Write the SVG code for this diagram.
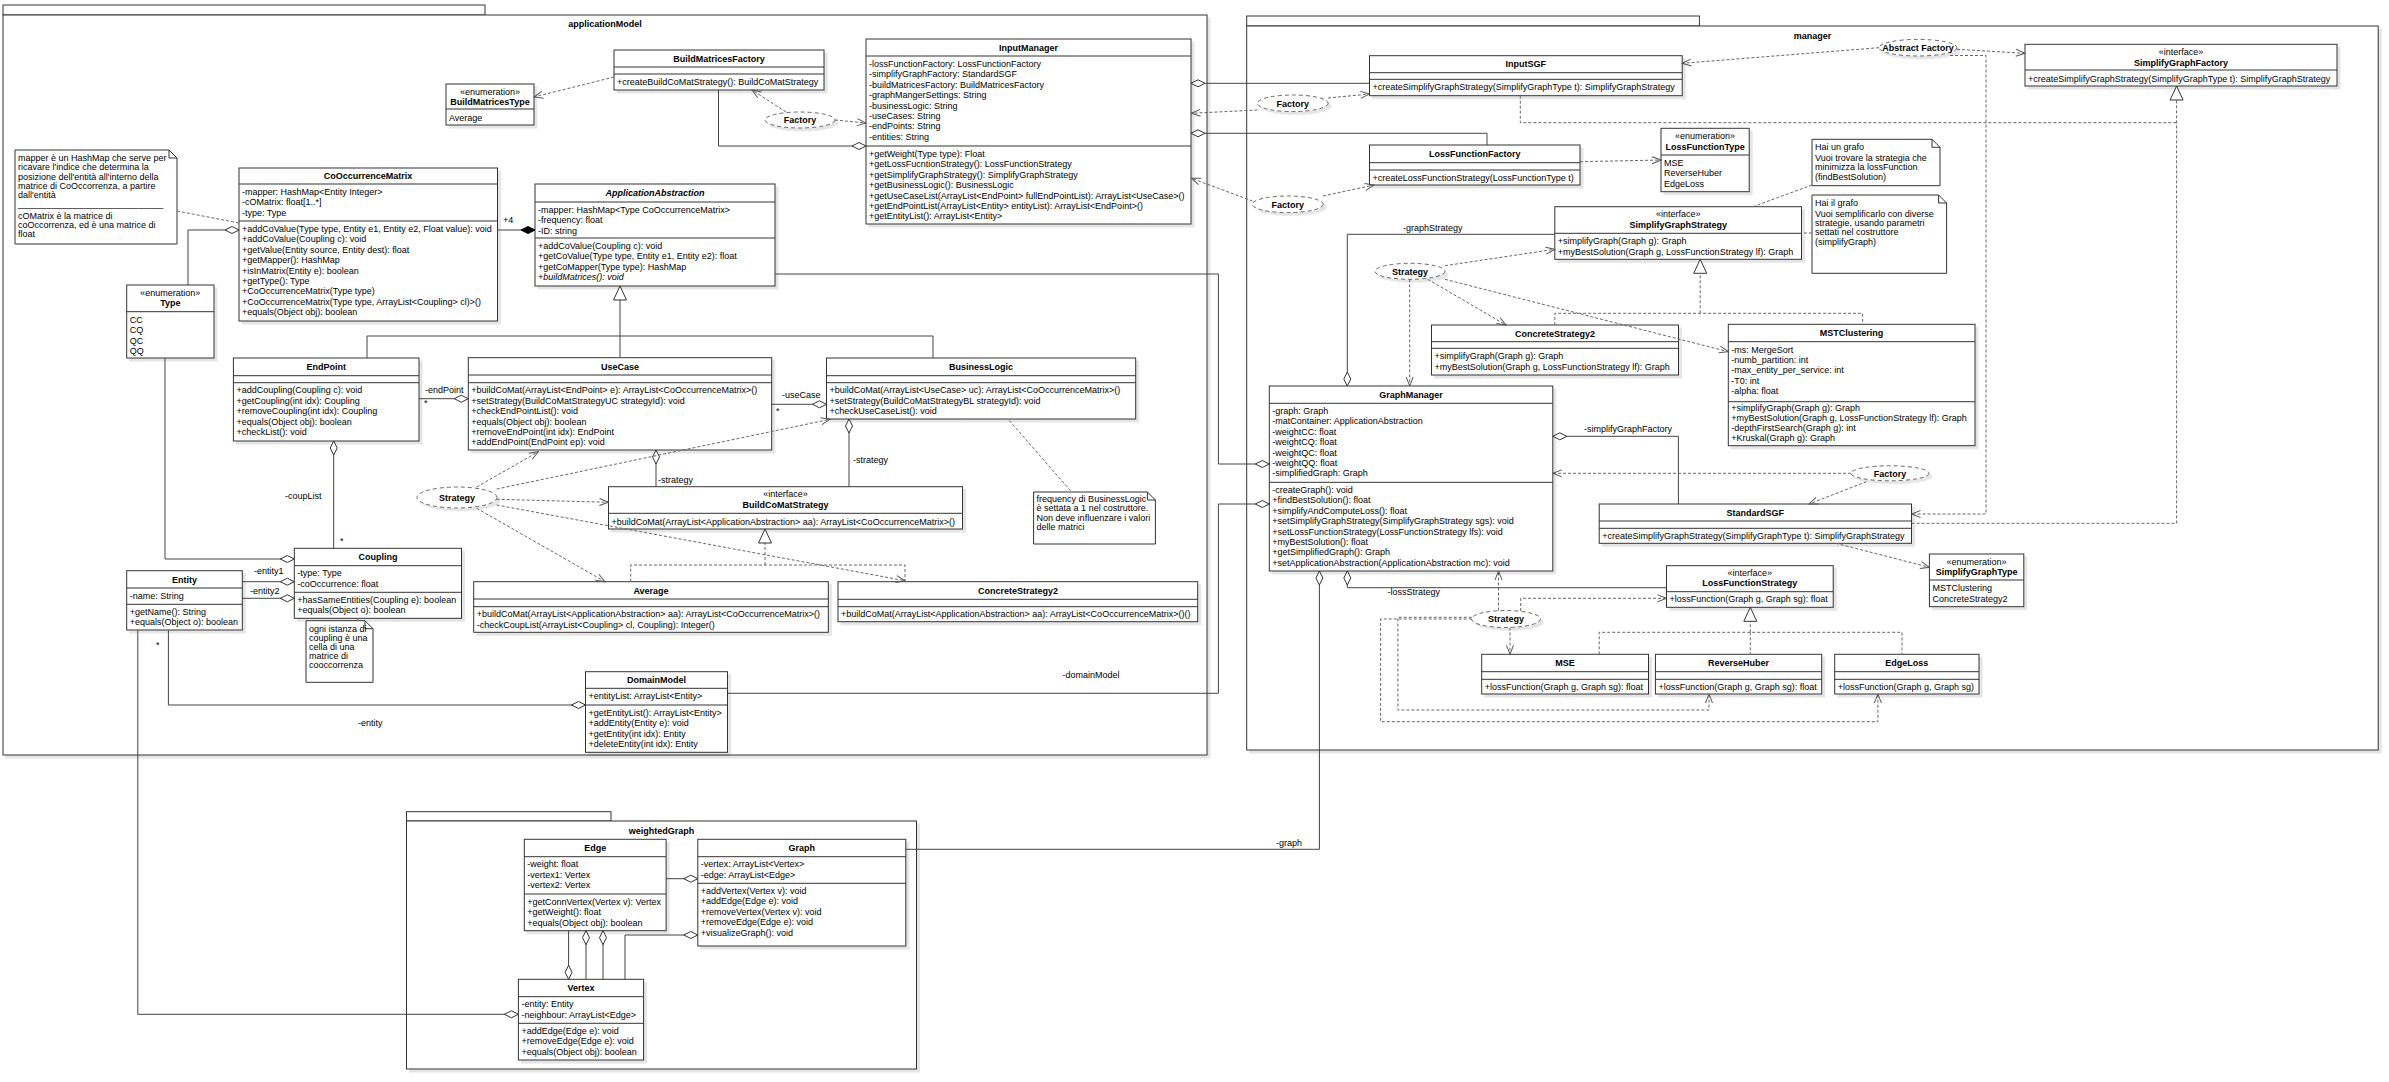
<svg xmlns="http://www.w3.org/2000/svg" width="2389" height="1082" viewBox="0 0 2389 1082">
<style>
text{font-family:"Liberation Sans",Arial,sans-serif;font-size:9px;fill:#000}
.h{font-weight:bold;text-anchor:middle}
.c{text-anchor:middle}
.i{font-style:italic}
.b{fill:#fff;stroke:#333;stroke-width:1}
.dv{stroke:#333;stroke-width:1;fill:none}
.s{stroke:#444;stroke-width:1;fill:none}
.d{stroke:#666;stroke-width:1;fill:none;stroke-dasharray:3 2}
.e{fill:#fff;stroke:#666;stroke-width:1;stroke-dasharray:4 3}
.n{fill:#fff;stroke:#333;stroke-width:1}
</style>
<defs>
<filter id="sh" x="-5%" y="-5%" width="120%" height="130%">
<feOffset dx="3" dy="3" in="SourceAlpha" result="o"/>
<feColorMatrix in="o" type="matrix" values="0 0 0 0 0  0 0 0 0 0  0 0 0 0 0  0 0 0 0.1 0" result="s"/>
<feMerge><feMergeNode in="s"/><feMergeNode in="SourceGraphic"/></feMerge>
</filter>
<marker id="dia" markerWidth="16" markerHeight="10" viewBox="0 0 16 10" refX="15" refY="5" orient="auto" markerUnits="userSpaceOnUse"><path d="M1,5 L8,1.5 L15,5 L8,8.5 Z" fill="#fff" stroke="#333" stroke-dasharray="none"/></marker>
<marker id="cdia" markerWidth="16" markerHeight="10" viewBox="0 0 16 10" refX="15" refY="5" orient="auto" markerUnits="userSpaceOnUse"><path d="M1,5 L8,1.5 L15,5 L8,8.5 Z" fill="#000" stroke="#000" stroke-dasharray="none"/></marker>
<marker id="arr" markerWidth="12" markerHeight="10" viewBox="0 0 12 10" refX="11" refY="5" orient="auto" markerUnits="userSpaceOnUse"><path d="M2,1.5 L11,5 L2,8.5" fill="none" stroke="#555" stroke-dasharray="none"/></marker>
<marker id="tri" markerWidth="16" markerHeight="16" viewBox="0 0 16 16" refX="15" refY="8" orient="auto" markerUnits="userSpaceOnUse"><path d="M1,1.5 L15,8 L1,14.5 Z" fill="#fff" stroke="#333" stroke-dasharray="none"/></marker>
</defs>
<rect width="2389" height="1082" fill="#fff"/>

<g id="frame-applicationModel">
<rect class="b" x="3" y="5" width="482" height="10"/>
<rect class="b" x="3" y="15" width="1204" height="740" filter="url(#sh)"/>
<text class="h" x="605" y="27">applicationModel</text>
</g>
<g id="frame-manager">
<rect class="b" x="1246.7" y="16" width="452.7" height="10"/>
<rect class="b" x="1246.7" y="26" width="1131.5" height="724" filter="url(#sh)"/>
<text class="h" x="1812.5" y="39">manager</text>
</g>
<g id="frame-weightedGraph">
<rect class="b" x="406.5" y="811.7" width="204.5" height="9.3"/>
<rect class="b" x="406.5" y="821" width="510" height="248" filter="url(#sh)"/>
<text class="h" x="661.5" y="834">weightedGraph</text>
</g>

<g id="BuildMatricesType">
<rect class="b" x="446" y="84" width="88" height="41" filter="url(#sh)"/>
<line class="dv" x1="446" y1="109" x2="534" y2="109"/>
<text class="c" x="490" y="94.5">«enumeration»</text>
<text class="h" x="490" y="105">BuildMatricesType</text>
<text x="449" y="120.5">Average</text>
</g>

<g id="BuildMatricesFactory">
<rect class="b" x="614" y="50" width="210" height="40" filter="url(#sh)"/>
<line class="dv" x1="614" y1="67" x2="824" y2="67"/>
<line class="dv" x1="614" y1="74" x2="824" y2="74"/>
<text class="h" x="719" y="61.7">BuildMatricesFactory</text>
<text x="617" y="85">+createBuildCoMatStrategy(): BuildCoMatStrategy</text>
</g>

<g id="InputManager">
<rect class="b" x="866" y="39" width="325" height="185" filter="url(#sh)"/>
<line class="dv" x1="866" y1="56" x2="1191" y2="56"/>
<line class="dv" x1="866" y1="146" x2="1191" y2="146"/>
<text class="h" x="1028.5" y="50.5">InputManager</text>
<text x="869" y="67">-lossFunctionFactory: LossFunctionFactory</text>
<text x="869" y="77.4">-simplifyGraphFactory: StandardSGF</text>
<text x="869" y="87.8">-buildMatricesFactory: BuildMatricesFactory</text>
<text x="869" y="98.2">-graphMangerSettings: String</text>
<text x="869" y="108.6">-businessLogic: String</text>
<text x="869" y="119">-useCases: String</text>
<text x="869" y="129.4">-endPoints: String</text>
<text x="869" y="139.8">-entities: String</text>
<text x="869" y="157">+getWeight(Type type): Float</text>
<text x="869" y="167.4">+getLossFucntionStrategy(): LossFunctionStrategy</text>
<text x="869" y="177.8">+getSimplifyGraphStrategy(): SimplifyGraphStrategy</text>
<text x="869" y="188.2">+getBusinessLogic(): BusinessLogic</text>
<text x="869" y="198.6">+getUseCaseList(ArrayList&lt;EndPoint&gt; fullEndPointList): ArrayList&lt;UseCase&gt;()</text>
<text x="869" y="209">+getEndPointList(ArrayList&lt;Entity&gt; entityList): ArrayList&lt;EndPoint&gt;()</text>
<text x="869" y="219.4">+getEntityList(): ArrayList&lt;Entity&gt;</text>
</g>

<g id="CoOccurrenceMatrix">
<rect class="b" x="239" y="168" width="258.5" height="153" filter="url(#sh)"/>
<line class="dv" x1="239" y1="184" x2="497.5" y2="184"/>
<line class="dv" x1="239" y1="221" x2="497.5" y2="221"/>
<text class="h" x="368" y="179">CoOccurrenceMatrix</text>
<text x="242" y="195">-mapper: HashMap&lt;Entity Integer&gt;</text>
<text x="242" y="205.4">-cOMatrix: float[1..*]</text>
<text x="242" y="215.8">-type: Type</text>
<text x="242" y="232">+addCoValue(Type type, Entity e1, Entity e2, Float value): void</text>
<text x="242" y="242.4">+addCoValue(Coupling c): void</text>
<text x="242" y="252.8">+getValue(Entity source, Entity dest): float</text>
<text x="242" y="263.2">+getMapper(): HashMap</text>
<text x="242" y="273.6">+isInMatrix(Entity e): boolean</text>
<text x="242" y="284">+getType(): Type</text>
<text x="242" y="294.4">+CoOccurrenceMatrix(Type type)</text>
<text x="242" y="304.8">+CoOccurrenceMatrix(Type type, ArrayList&lt;Coupling&gt; cl)&gt;()</text>
<text x="242" y="315.2">+equals(Object obj): boolean</text>
</g>

<g id="ApplicationAbstraction">
<rect class="b" x="535" y="184" width="240" height="102" filter="url(#sh)"/>
<line class="dv" x1="535" y1="202" x2="775" y2="202"/>
<line class="dv" x1="535" y1="238" x2="775" y2="238"/>
<text class="h i" x="655" y="196">ApplicationAbstraction</text>
<text x="538" y="213">-mapper: HashMap&lt;Type CoOccurrenceMatrix&gt;</text>
<text x="538" y="223.4">-frequency: float</text>
<text x="538" y="233.8">-ID: string</text>
<text x="538" y="249">+addCoValue(Coupling c): void</text>
<text x="538" y="259.4">+getCoValue(Type type, Entity e1, Entity e2): float</text>
<text x="538" y="269.8">+getCoMapper(Type type): HashMap</text>
<text x="538" y="280.2" class="i">+buildMatrices(): void</text>
</g>

<g id="Type">
<rect class="b" x="126.7" y="285" width="87.3" height="73" filter="url(#sh)"/>
<line class="dv" x1="126.7" y1="311.7" x2="214" y2="311.7"/>
<text class="c" x="170.3" y="295.5">«enumeration»</text>
<text class="h" x="170.3" y="306">Type</text>
<text x="129.7" y="322.7">CC</text>
<text x="129.7" y="333.1">CQ</text>
<text x="129.7" y="343.5">QC</text>
<text x="129.7" y="353.9">QQ</text>
</g>

<g id="EndPoint">
<rect class="b" x="233.4" y="358" width="185.6" height="83" filter="url(#sh)"/>
<line class="dv" x1="233.4" y1="375.7" x2="419" y2="375.7"/>
<line class="dv" x1="233.4" y1="382.7" x2="419" y2="382.7"/>
<text class="h" x="326.2" y="370">EndPoint</text>
<text x="236.4" y="393.4">+addCoupling(Coupling c): void</text>
<text x="236.4" y="403.8">+getCoupling(int idx): Coupling</text>
<text x="236.4" y="414.2">+removeCoupling(int idx): Coupling</text>
<text x="236.4" y="424.6">+equals(Object obj): boolean</text>
<text x="236.4" y="435">+checkList(): void</text>
</g>

<g id="UseCase">
<rect class="b" x="468.3" y="357.7" width="303.4" height="92.3" filter="url(#sh)"/>
<line class="dv" x1="468.3" y1="375" x2="771.7" y2="375"/>
<line class="dv" x1="468.3" y1="382.7" x2="771.7" y2="382.7"/>
<text class="h" x="620" y="369.7">UseCase</text>
<text x="471.3" y="393.4">+buildCoMat(ArrayList&lt;EndPoint&gt; e): ArrayList&lt;CoOccurrenceMatrix&gt;()</text>
<text x="471.3" y="403.8">+setStrategy(BuildCoMatStrategyUC strategyId): void</text>
<text x="471.3" y="414.2">+checkEndPointList(): void</text>
<text x="471.3" y="424.6">+equals(Object obj): boolean</text>
<text x="471.3" y="435">+removeEndPoint(int idx): EndPoint</text>
<text x="471.3" y="445.4">+addEndPoint(EndPoint ep): void</text>
</g>

<g id="BusinessLogic">
<rect class="b" x="826.5" y="358" width="309.2" height="61" filter="url(#sh)"/>
<line class="dv" x1="826.5" y1="375.7" x2="1135.7" y2="375.7"/>
<line class="dv" x1="826.5" y1="382.7" x2="1135.7" y2="382.7"/>
<text class="h" x="981" y="370">BusinessLogic</text>
<text x="829.5" y="393.4">+buildCoMat(ArrayList&lt;UseCase&gt; uc): ArrayList&lt;CoOccurrenceMatrix&gt;()</text>
<text x="829.5" y="403.8">+setStrategy(BuildCoMatStrategyBL strategyId): void</text>
<text x="829.5" y="414.2">+checkUseCaseList(): void</text>
</g>

<g id="BuildCoMatStrategy">
<rect class="b" x="608.5" y="486.7" width="354" height="42.3" filter="url(#sh)"/>
<line class="dv" x1="608.5" y1="513.3" x2="962.5" y2="513.3"/>
<text class="c" x="785.5" y="497">«interface»</text>
<text class="h" x="785.5" y="508">BuildCoMatStrategy</text>
<text x="611.5" y="524.5">+buildCoMat(ArrayList&lt;ApplicationAbstraction&gt; aa): ArrayList&lt;CoOccurrenceMatrix&gt;()</text>
</g>

<g id="Average">
<rect class="b" x="473.7" y="581.7" width="354.6" height="50.6" filter="url(#sh)"/>
<line class="dv" x1="473.7" y1="599" x2="828.3" y2="599"/>
<line class="dv" x1="473.7" y1="606.7" x2="828.3" y2="606.7"/>
<text class="h" x="651" y="593.5">Average</text>
<text x="476.7" y="617.4">+buildCoMat(ArrayList&lt;ApplicationAbstraction&gt; aa): ArrayList&lt;CoOccurrenceMatrix&gt;()</text>
<text x="476.7" y="627.8">-checkCoupList(ArrayList&lt;Coupling&gt; cl, Coupling): Integer()</text>
</g>

<g id="ConcreteStrategy2-BuildCoMat">
<rect class="b" x="838" y="581.7" width="359.7" height="40" filter="url(#sh)"/>
<line class="dv" x1="838" y1="599.3" x2="1197.7" y2="599.3"/>
<line class="dv" x1="838" y1="606.7" x2="1197.7" y2="606.7"/>
<text class="h" x="1018" y="593.5">ConcreteStrategy2</text>
<text x="841" y="617.4">+buildCoMat(ArrayList&lt;ApplicationAbstraction&gt; aa): ArrayList&lt;CoOccurrenceMatrix&gt;()()</text>
</g>

<g id="Coupling">
<rect class="b" x="294.3" y="548.3" width="167.2" height="70" filter="url(#sh)"/>
<line class="dv" x1="294.3" y1="565.7" x2="461.5" y2="565.7"/>
<line class="dv" x1="294.3" y1="592.3" x2="461.5" y2="592.3"/>
<text class="h" x="378" y="560">Coupling</text>
<text x="297.3" y="576.4">-type: Type</text>
<text x="297.3" y="586.8">-coOccurrence: float</text>
<text x="297.3" y="603">+hasSameEntities(Coupling e): boolean</text>
<text x="297.3" y="613.4">+equals(Object o): boolean</text>
</g>

<g id="Entity">
<rect class="b" x="126.7" y="570.7" width="115.6" height="59.3" filter="url(#sh)"/>
<line class="dv" x1="126.7" y1="588" x2="242.3" y2="588"/>
<line class="dv" x1="126.7" y1="604.3" x2="242.3" y2="604.3"/>
<text class="h" x="184.5" y="582.5">Entity</text>
<text x="129.7" y="598.7">-name: String</text>
<text x="129.7" y="615">+getName(): String</text>
<text x="129.7" y="625.4">+equals(Object o): boolean</text>
</g>

<g id="DomainModel">
<rect class="b" x="585.5" y="671.7" width="142" height="80.6" filter="url(#sh)"/>
<line class="dv" x1="585.5" y1="688.3" x2="727.5" y2="688.3"/>
<line class="dv" x1="585.5" y1="705" x2="727.5" y2="705"/>
<text class="h" x="656.5" y="683">DomainModel</text>
<text x="588.5" y="699">+entityList: ArrayList&lt;Entity&gt;</text>
<text x="588.5" y="715.7">+getEntityList(): ArrayList&lt;Entity&gt;</text>
<text x="588.5" y="726.1">+addEntity(Entity e): void</text>
<text x="588.5" y="736.5">+getEntity(int idx): Entity</text>
<text x="588.5" y="746.9">+deleteEntity(int idx): Entity</text>
</g>

<g id="note-mapper">
<path class="n" d="M15,150 H169 L177,158 V244 H15 Z"/>
<path class="dv" d="M169,150 V158 H177"/>
<text x="18" y="161.2">mapper è un HashMap che serve per</text>
<text x="18" y="170.2">ricavare l'indice che determina la</text>
<text x="18" y="180">posizione dell'entità all'interno della</text>
<text x="18" y="189.2">matrice di CoOccorrenza, a partire</text>
<text x="18" y="198.2">dall'entità</text>
<text x="18" y="206.5">_____________________________</text>
<text x="18" y="219.2">cOMatrix è la matrice di</text>
<text x="18" y="228.2">coOccorrenza, ed è una matrice di</text>
<text x="18" y="237.2">float</text>
</g>

<g id="note-frequency">
<path class="n" d="M1033.6,492 H1147.4 L1155.4,500 V544 H1033.6 Z"/>
<path class="dv" d="M1147.4,492 V500 H1155.4"/>
<text x="1036.6" y="502.2">frequency di BusinessLogic</text>
<text x="1036.6" y="511.2">è settata a 1 nel costruttore.</text>
<text x="1036.6" y="521">Non deve influenzare i valori</text>
<text x="1036.6" y="530">delle matrici</text>
</g>

<g id="note-coupling">
<path class="n" d="M306,620.7 H365 L373,628.7 V682.3 H306 Z"/>
<path class="dv" d="M365,620.7 V628.7 H373"/>
<text x="309" y="631.5">ogni istanza di</text>
<text x="309" y="641">coupling è una</text>
<text x="309" y="650">cella di una</text>
<text x="309" y="659.2">matrice di</text>
<text x="309" y="668.2">cooccorrenza</text>
</g>

<g id="InputSGF">
<rect class="b" x="1369.5" y="55.7" width="312.7" height="40" filter="url(#sh)"/>
<line class="dv" x1="1369.5" y1="72.7" x2="1682.2" y2="72.7"/>
<line class="dv" x1="1369.5" y1="79.3" x2="1682.2" y2="79.3"/>
<text class="h" x="1525.8" y="67.4">InputSGF</text>
<text x="1372.5" y="90.3">+createSimplifyGraphStrategy(SimplifyGraphType t): SimplifyGraphStrategy</text>
</g>

<g id="LossFunctionFactory">
<rect class="b" x="1369.5" y="145" width="210.5" height="40" filter="url(#sh)"/>
<line class="dv" x1="1369.5" y1="162.7" x2="1580" y2="162.7"/>
<line class="dv" x1="1369.5" y1="170" x2="1580" y2="170"/>
<text class="h" x="1474.7" y="156.7">LossFunctionFactory</text>
<text x="1372.5" y="181">+createLossFunctionStrategy(LossFunctionType t)</text>
</g>

<g id="LossFunctionType">
<rect class="b" x="1661" y="128.3" width="88.2" height="63.4" filter="url(#sh)"/>
<line class="dv" x1="1661" y1="155" x2="1749.2" y2="155"/>
<text class="c" x="1705.1" y="139">«enumeration»</text>
<text class="h" x="1705.1" y="149.5">LossFunctionType</text>
<text x="1664" y="166">MSE</text>
<text x="1664" y="176.4">ReverseHuber</text>
<text x="1664" y="186.8">EdgeLoss</text>
</g>

<g id="SimplifyGraphFactory">
<rect class="b" x="2025" y="44.3" width="312" height="41.7" filter="url(#sh)"/>
<line class="dv" x1="2025" y1="70" x2="2337" y2="70"/>
<text class="c" x="2181" y="55">«interface»</text>
<text class="h" x="2181" y="65.5">SimplifyGraphFactory</text>
<text x="2028" y="81.5">+createSimplifyGraphStrategy(SimplifyGraphType t): SimplifyGraphStrategy</text>
</g>

<g id="note-hai-un-grafo">
<path class="n" d="M1812,139.3 H1932 L1940,147.3 V185.7 H1812 Z"/>
<path class="dv" d="M1932,139.3 V147.3 H1940"/>
<text x="1815" y="150">Hai un grafo</text>
<text x="1815" y="161">Vuoi trovare la strategia che</text>
<text x="1815" y="170">minimizza la lossFunction</text>
<text x="1815" y="180">(findBestSolution)</text>
</g>

<g id="note-hai-il-grafo">
<path class="n" d="M1812,195 H1938.6 L1946.6,203 V273.3 H1812 Z"/>
<path class="dv" d="M1938.6,195 V203 H1946.6"/>
<text x="1815" y="206">Hai il grafo</text>
<text x="1815" y="216.5">Vuoi semplificarlo con diverse</text>
<text x="1815" y="226">strategie, usando parametri</text>
<text x="1815" y="235">settati nel costruttore</text>
<text x="1815" y="245">(simplifyGraph)</text>
</g>

<g id="SimplifyGraphStrategy">
<rect class="b" x="1554.8" y="206.7" width="246.7" height="52.6" filter="url(#sh)"/>
<line class="dv" x1="1554.8" y1="233.3" x2="1801.5" y2="233.3"/>
<text class="c" x="1678.2" y="216.5">«interface»</text>
<text class="h" x="1678.2" y="228">SimplifyGraphStrategy</text>
<text x="1557.8" y="244.3">+simplifyGraph(Graph g): Graph</text>
<text x="1557.8" y="254.7">+myBestSolution(Graph g, LossFunctionStrategy lf): Graph</text>
</g>

<g id="ConcreteStrategy2-SimplifyGraph">
<rect class="b" x="1431.5" y="325" width="247" height="50" filter="url(#sh)"/>
<line class="dv" x1="1431.5" y1="341.7" x2="1678.5" y2="341.7"/>
<line class="dv" x1="1431.5" y1="348.3" x2="1678.5" y2="348.3"/>
<text class="h" x="1555" y="336.5">ConcreteStrategy2</text>
<text x="1434.5" y="359.3">+simplifyGraph(Graph g): Graph</text>
<text x="1434.5" y="369.7">+myBestSolution(Graph g, LossFunctionStrategy lf): Graph</text>
</g>

<g id="MSTClustering">
<rect class="b" x="1728.3" y="324.3" width="246.7" height="121.4" filter="url(#sh)"/>
<line class="dv" x1="1728.3" y1="341.7" x2="1975" y2="341.7"/>
<line class="dv" x1="1728.3" y1="401.7" x2="1975" y2="401.7"/>
<text class="h" x="1851.6" y="336">MSTClustering</text>
<text x="1731.3" y="352.6">-ms: MergeSort</text>
<text x="1731.3" y="363">-numb_partition: int</text>
<text x="1731.3" y="373.4">-max_entity_per_service: int</text>
<text x="1731.3" y="383.8">-T0: int</text>
<text x="1731.3" y="394.2">-alpha: float</text>
<text x="1731.3" y="410.7">+simplifyGraph(Graph g): Graph</text>
<text x="1731.3" y="420.9">+myBestSolution(Graph g, LossFunctionStrategy lf): Graph</text>
<text x="1731.3" y="431.1">-depthFirstSearch(Graph g): int</text>
<text x="1731.3" y="441.3">+Kruskal(Graph g): Graph</text>
</g>

<g id="GraphManager">
<rect class="b" x="1269.3" y="386" width="283.5" height="185" filter="url(#sh)"/>
<line class="dv" x1="1269.3" y1="403.3" x2="1552.8" y2="403.3"/>
<line class="dv" x1="1269.3" y1="482.3" x2="1552.8" y2="482.3"/>
<text class="h" x="1411" y="397.7">GraphManager</text>
<text x="1272.3" y="414">-graph: Graph</text>
<text x="1272.3" y="424.4">-matContainer: ApplicationAbstraction</text>
<text x="1272.3" y="434.8">-weightCC: float</text>
<text x="1272.3" y="445.2">-weightCQ: float</text>
<text x="1272.3" y="455.6">-weightQC: float</text>
<text x="1272.3" y="466">-weightQQ: float</text>
<text x="1272.3" y="476.4">-simplifiedGraph: Graph</text>
<text x="1272.3" y="493">-createGraph(): void</text>
<text x="1272.3" y="503.4">+findBestSolution(): float</text>
<text x="1272.3" y="513.8">+simplifyAndComputeLoss(): float</text>
<text x="1272.3" y="524.2">+setSimplifyGraphStrategy(SimplifyGraphStrategy sgs): void</text>
<text x="1272.3" y="534.6">+setLossFunctionStrategy(LossFunctionStrategy lfs): void</text>
<text x="1272.3" y="545">+myBestSolution(): float</text>
<text x="1272.3" y="555.4">+getSimplifiedGraph(): Graph</text>
<text x="1272.3" y="565.8">+setApplicationAbstraction(ApplicationAbstraction mc): void</text>
</g>

<g id="StandardSGF">
<rect class="b" x="1599.2" y="504" width="312.3" height="39.3" filter="url(#sh)"/>
<line class="dv" x1="1599.2" y1="521" x2="1911.5" y2="521"/>
<line class="dv" x1="1599.2" y1="528.3" x2="1911.5" y2="528.3"/>
<text class="h" x="1755.3" y="515.7">StandardSGF</text>
<text x="1602.2" y="538.5">+createSimplifyGraphStrategy(SimplifyGraphType t): SimplifyGraphStrategy</text>
</g>

<g id="SimplifyGraphType">
<rect class="b" x="1929.4" y="554" width="94.4" height="52.7" filter="url(#sh)"/>
<line class="dv" x1="1929.4" y1="580" x2="2023.8" y2="580"/>
<text class="c" x="1976.6" y="564.5">«enumeration»</text>
<text class="h" x="1976.6" y="575">SimplifyGraphType</text>
<text x="1932.4" y="591.3">MSTClustering</text>
<text x="1932.4" y="601.7">ConcreteStrategy2</text>
</g>

<g id="LossFunctionStrategy">
<rect class="b" x="1666.5" y="565.7" width="166.7" height="41.6" filter="url(#sh)"/>
<line class="dv" x1="1666.5" y1="591.7" x2="1833.2" y2="591.7"/>
<text class="c" x="1749.8" y="575.5">«interface»</text>
<text class="h" x="1749.8" y="586">LossFunctionStrategy</text>
<text x="1669.5" y="602.2">+lossFunction(Graph g, Graph sg): float</text>
</g>

<g id="MSE">
<rect class="b" x="1481.7" y="654.3" width="166.8" height="39.7" filter="url(#sh)"/>
<line class="dv" x1="1481.7" y1="671.7" x2="1648.5" y2="671.7"/>
<line class="dv" x1="1481.7" y1="679.3" x2="1648.5" y2="679.3"/>
<text class="h" x="1565" y="666">MSE</text>
<text x="1484.7" y="690">+lossFunction(Graph g, Graph sg): float</text>
</g>

<g id="ReverseHuber">
<rect class="b" x="1655.4" y="654.3" width="166.3" height="39.7" filter="url(#sh)"/>
<line class="dv" x1="1655.4" y1="671.7" x2="1821.7" y2="671.7"/>
<line class="dv" x1="1655.4" y1="679.3" x2="1821.7" y2="679.3"/>
<text class="h" x="1738.5" y="666">ReverseHuber</text>
<text x="1658.4" y="690">+lossFunction(Graph g, Graph sg): float</text>
</g>

<g id="EdgeLoss">
<rect class="b" x="1834.7" y="654.3" width="144.3" height="39.7" filter="url(#sh)"/>
<line class="dv" x1="1834.7" y1="671.7" x2="1979" y2="671.7"/>
<line class="dv" x1="1834.7" y1="679.3" x2="1979" y2="679.3"/>
<text class="h" x="1906.8" y="666">EdgeLoss</text>
<text x="1837.7" y="690">+lossFunction(Graph g, Graph sg)</text>
</g>

<g id="Edge">
<rect class="b" x="524.3" y="839.3" width="141.8" height="91.4" filter="url(#sh)"/>
<line class="dv" x1="524.3" y1="856.7" x2="666.1" y2="856.7"/>
<line class="dv" x1="524.3" y1="894" x2="666.1" y2="894"/>
<text class="h" x="595.2" y="851">Edge</text>
<text x="527.3" y="867.4">-weight: float</text>
<text x="527.3" y="877.8">-vertex1: Vertex</text>
<text x="527.3" y="888.2">-vertex2: Vertex</text>
<text x="527.3" y="904.7">+getConnVertex(Vertex v): Vertex</text>
<text x="527.3" y="915.1">+getWeight(): float</text>
<text x="527.3" y="925.5">+equals(Object obj): boolean</text>
</g>

<g id="Graph">
<rect class="b" x="697.8" y="839.3" width="208" height="106.7" filter="url(#sh)"/>
<line class="dv" x1="697.8" y1="856.7" x2="905.8" y2="856.7"/>
<line class="dv" x1="697.8" y1="883.3" x2="905.8" y2="883.3"/>
<text class="h" x="801.8" y="851">Graph</text>
<text x="700.8" y="867.4">-vertex: ArrayList&lt;Vertex&gt;</text>
<text x="700.8" y="877.8">-edge: ArrayList&lt;Edge&gt;</text>
<text x="700.8" y="894">+addVertex(Vertex  v): void</text>
<text x="700.8" y="904.4">+addEdge(Edge e): void</text>
<text x="700.8" y="914.8">+removeVertex(Vertex v): void</text>
<text x="700.8" y="925.2">+removeEdge(Edge e): void</text>
<text x="700.8" y="935.6">+visualizeGraph(): void</text>
</g>

<g id="Vertex">
<rect class="b" x="518.4" y="979.3" width="125.2" height="80.7" filter="url(#sh)"/>
<line class="dv" x1="518.4" y1="996.7" x2="643.6" y2="996.7"/>
<line class="dv" x1="518.4" y1="1023.3" x2="643.6" y2="1023.3"/>
<text class="h" x="581" y="991">Vertex</text>
<text x="521.4" y="1007.4">-entity: Entity</text>
<text x="521.4" y="1017.8">-neighbour: ArrayList&lt;Edge&gt;</text>
<text x="521.4" y="1034">+addEdge(Edge e): void</text>
<text x="521.4" y="1044.4">+removeEdge(Edge e): void</text>
<text x="521.4" y="1054.8">+equals(Object obj): boolean</text>
</g>

<g id="pattern-factory-bmf">
<ellipse class="e" cx="800" cy="120" rx="35" ry="8" filter="url(#sh)"/>
<text class="h" x="800" y="123.2">Factory</text>
</g>
<g id="pattern-strategy-bcm">
<ellipse class="e" cx="457" cy="497.5" rx="40" ry="10.5" filter="url(#sh)"/>
<text class="h" x="457" y="500.7">Strategy</text>
</g>
<g id="pattern-factory-isgf">
<ellipse class="e" cx="1292.8" cy="103.3" rx="35.4" ry="8.3" filter="url(#sh)"/>
<text class="h" x="1292.8" y="106.5">Factory</text>
</g>
<g id="pattern-factory-lff">
<ellipse class="e" cx="1287.8" cy="204.3" rx="35.4" ry="8.3" filter="url(#sh)"/>
<text class="h" x="1287.8" y="207.5">Factory</text>
</g>
<g id="pattern-abstract-factory">
<ellipse class="e" cx="1918" cy="47.7" rx="39" ry="8.3" filter="url(#sh)"/>
<text class="h" x="1918" y="50.9">Abstract Factory</text>
</g>
<g id="pattern-strategy-sg">
<ellipse class="e" cx="1410" cy="271.3" rx="35" ry="8" filter="url(#sh)"/>
<text class="h" x="1410" y="274.5">Strategy</text>
</g>
<g id="pattern-factory-ssgf">
<ellipse class="e" cx="1890" cy="473.3" rx="39" ry="7.5" filter="url(#sh)"/>
<text class="h" x="1890" y="476.5">Factory</text>
</g>
<g id="pattern-strategy-loss">
<ellipse class="e" cx="1506" cy="619" rx="34.5" ry="8.5" filter="url(#sh)"/>
<text class="h" x="1506" y="622.2">Strategy</text>
</g>

<g id="connectors">
<path class="s" d="M718.5,90 V146 H866" marker-end="url(#dia)"/>
<path class="s" d="M497.5,230 H535" marker-end="url(#cdia)"/>
<path class="s" d="M188,285 V230 H239" marker-end="url(#dia)"/>
<path class="s" d="M165,358 V559 H294.3" marker-end="url(#dia)"/>
<path class="s" d="M620,358 V286" marker-end="url(#tri)"/>
<path class="s" d="M367,358 V336 H933 V358"/>
<path class="s" d="M419,398.7 H468.3" marker-end="url(#dia)"/>
<path class="s" d="M771.7,404.3 H826.5" marker-end="url(#dia)"/>
<path class="s" d="M333.7,548.3 V441" marker-end="url(#dia)"/>
<path class="s" d="M656,486.7 V450" marker-end="url(#dia)"/>
<path class="s" d="M849,486.7 V419" marker-end="url(#dia)"/>
<path class="s" d="M242.3,581.7 H294.3" marker-end="url(#dia)"/>
<path class="s" d="M242.3,598.3 H294.3" marker-end="url(#dia)"/>
<path class="s" d="M168.4,630 V705 H585.5" marker-end="url(#dia)"/>
<path class="s" d="M137.8,630 V1014.3 H518.4" marker-end="url(#dia)"/>
<path class="s" d="M727.5,693.3 H1218.4 V504 H1269.3" marker-end="url(#dia)"/>
<path class="s" d="M775,274 H1218.4 V464 H1269.3" marker-end="url(#dia)"/>
<path class="s" d="M1369.5,83.3 H1191" marker-end="url(#dia)"/>
<path class="s" d="M1487,145 V133.3 H1191" marker-end="url(#dia)"/>
<path class="s" d="M1554.8,234.3 H1347.3 V386" marker-end="url(#dia)"/>
<path class="s" d="M1678.4,504 V436.3 H1552.8" marker-end="url(#dia)"/>
<path class="s" d="M1666.5,587.7 H1347.3 V571" marker-end="url(#dia)"/>
<path class="s" d="M905.8,849.3 H1319.4 V571" marker-end="url(#dia)"/>
<path class="s" d="M666.1,878.7 H697.8" marker-end="url(#dia)"/>
<path class="s" d="M625,979.3 V935 H697.8" marker-end="url(#dia)"/>
<path class="s" d="M568.6,930.7 V979.3" marker-end="url(#dia)"/>
<path class="s" d="M586,979.3 V930.7" marker-end="url(#dia)"/>
<path class="s" d="M603,979.3 V930.7" marker-end="url(#dia)"/>

<path class="d" d="M614,77 L534,97" marker-end="url(#arr)"/>
<path class="d" d="M786,112 L752,90" marker-end="url(#arr)"/>
<path class="d" d="M835,120 L866,123" marker-end="url(#arr)"/>
<path class="d" d="M765,565 V529" marker-end="url(#tri)"/>
<path class="d" d="M630.7,581.7 V565 H905 V581.7"/>
<path class="d" d="M476.7,487 L538.3,451.7" marker-end="url(#arr)"/>
<path class="d" d="M496.7,489 L830,419.3" marker-end="url(#arr)"/>
<path class="d" d="M496.7,499.3 L608.5,502.3" marker-end="url(#arr)"/>
<path class="d" d="M476.7,508.3 L605,581.7" marker-end="url(#arr)"/>
<path class="d" d="M496.7,505 L905,580.7" marker-end="url(#arr)"/>
<path class="d" d="M177,211 L239,223"/>
<path class="d" d="M1070.4,490.7 L1008,419"/>
<path class="d" d="M357.8,618.3 V620.7"/>
<path class="d" d="M1257.4,110 L1191.4,113.3" marker-end="url(#arr)"/>
<path class="d" d="M1328,98 L1369.5,94" marker-end="url(#arr)"/>
<path class="d" d="M1252.4,201 L1191.4,178.3" marker-end="url(#arr)"/>
<path class="d" d="M1323,196 L1374,185" marker-end="url(#arr)"/>
<path class="d" d="M1580,161.7 L1661,160" marker-end="url(#arr)"/>
<path class="d" d="M1520.3,95.7 V122.7 H2176.6"/>
<path class="d" d="M1911.5,523.3 H2176.6 V86" marker-end="url(#tri)"/>
<path class="d" d="M1879,47.7 L1682.2,63.3" marker-end="url(#arr)"/>
<path class="d" d="M1957,49.3 L2025,53.3" marker-end="url(#arr)"/>
<path class="d" d="M1950,55.5 H1986 V514 H1911.5" marker-end="url(#arr)"/>
<path class="d" d="M1812,185 L1753,206.7"/>
<path class="d" d="M1812,233 L1801.5,233"/>
<path class="d" d="M1700.2,313.3 V259.3" marker-end="url(#tri)"/>
<path class="d" d="M1554.8,325 V313.3 H1862.6 V324.3"/>
<path class="d" d="M1445,265.7 L1554.8,249.3" marker-end="url(#arr)"/>
<path class="d" d="M1427.7,279.3 L1506,325" marker-end="url(#arr)"/>
<path class="d" d="M1445,279.3 L1728.3,351.7" marker-end="url(#arr)"/>
<path class="d" d="M1409.7,279.3 V386" marker-end="url(#arr)"/>
<path class="d" d="M1851,473.3 H1552.8" marker-end="url(#arr)"/>
<path class="d" d="M1866.4,481.7 L1809,504" marker-end="url(#arr)"/>
<path class="d" d="M1835.8,543.3 L1929.4,567.3" marker-end="url(#arr)"/>
<path class="d" d="M1750.3,632.3 V607.3" marker-end="url(#tri)"/>
<path class="d" d="M1599.2,654.3 V632.3 H1902 V654.3"/>
<path class="d" d="M1750.3,632.3 V654.3"/>
<path class="d" d="M1498.5,610.5 V571" marker-end="url(#arr)"/>
<path class="d" d="M1520.7,611 V598.3 H1666.5" marker-end="url(#arr)"/>
<path class="d" d="M1510,627.5 V654.3" marker-end="url(#arr)"/>
<path class="d" d="M1471.7,617.3 H1397.9 V710 H1709 V694" marker-end="url(#arr)"/>
<path class="d" d="M1471.7,619 H1380.6 V721.7 H1877.9 V694" marker-end="url(#arr)"/>

<text x="503" y="223">+4</text>
<text x="425" y="393">-endPoint</text>
<text x="424" y="405.5">*</text>
<text x="782" y="398">-useCase</text>
<text x="776" y="413.5">*</text>
<text x="285" y="499">-coupList</text>
<text x="340" y="543.5">*</text>
<text x="658" y="483">-strategy</text>
<text x="853" y="463">-strategy</text>
<text x="254" y="574">-entity1</text>
<text x="250" y="594">-entity2</text>
<text x="156" y="647.5">*</text>
<text x="358" y="726">-entity</text>
<text x="1062.5" y="678">-domainModel</text>
<text x="1403" y="230.5">-graphStrategy</text>
<text x="1584" y="431.5">-simplifyGraphFactory</text>
<text x="1387.5" y="595">-lossStrategy</text>
<text x="1276" y="846">-graph</text>
</g>
</svg>
